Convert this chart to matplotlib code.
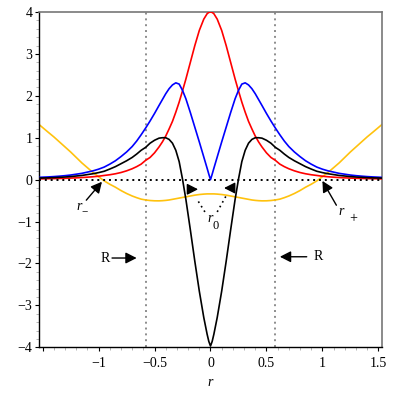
import numpy as np
import matplotlib
matplotlib.use("Agg")
import matplotlib.pyplot as plt
from matplotlib.ticker import MultipleLocator

plt.rcParams['font.family'] = ['Liberation Serif', 'DejaVu Serif']
plt.rcParams['axes.unicode_minus'] = True

r_half = [0.0, 0.015, 0.03, 0.06, 0.1, 0.14, 0.18, 0.22, 0.25, 0.28, 0.31, 0.34,
          0.37, 0.4, 0.43, 0.46, 0.5, 0.54, 0.58, 0.62, 0.66, 0.7, 0.75, 0.8,
          0.85, 0.9, 0.95, 1.0, 1.05, 1.1, 1.15, 1.2, 1.25, 1.3, 1.35, 1.4, 1.45, 1.53]

red_half = [4.0, 3.99, 3.96, 3.83, 3.56, 3.20, 2.80, 2.40, 2.12, 1.85, 1.61, 1.39,
            1.21, 1.04, 0.90, 0.78, 0.64, 0.53, 0.46, 0.37, 0.31, 0.26, 0.21, 0.17,
            0.14, 0.117, 0.10, 0.082, 0.069, 0.059, 0.05, 0.043, 0.037, 0.032,
            0.028, 0.025, 0.022, 0.018]

blue_half = [0.0, 0.13, 0.27, 0.54, 0.9, 1.25, 1.6, 1.93, 2.13, 2.28, 2.31, 2.26,
             2.17, 2.05, 1.91, 1.77, 1.58, 1.40, 1.23, 1.07, 0.92, 0.79, 0.66, 0.55,
             0.45, 0.37, 0.30, 0.25, 0.21, 0.18, 0.15, 0.13, 0.11, 0.095,
             0.083, 0.073, 0.065, 0.055]

black_half = [-3.97, -3.86, -3.69, -3.29, -2.66, -1.95, -1.2, -0.47, 0.01, 0.43, 0.70, 0.87,
              0.96, 1.0, 1.0, 0.99, 0.94, 0.87, 0.77, 0.70, 0.61, 0.53, 0.45, 0.38,
              0.31, 0.253, 0.20, 0.168, 0.141, 0.121, 0.10, 0.087, 0.073, 0.063,
              0.055, 0.048, 0.043, 0.037]

gold_half = [-0.34, -0.34, -0.34, -0.345, -0.355, -0.37, -0.39, -0.41, -0.425, -0.44, -0.455, -0.47,
             -0.485, -0.495, -0.502, -0.506, -0.505, -0.498, -0.485, -0.465, -0.43, -0.39, -0.33, -0.26,
             -0.18, -0.11, -0.03, 0.07, 0.17, 0.285, 0.40, 0.53, 0.66, 0.78,
             0.90, 1.02, 1.13, 1.31]


def mirror(vals, odd=False):
    left = [(-v if odd else v) for v in reversed(vals[1:])]
    return left + list(vals)


r = mirror(r_half, odd=True)
red = mirror(red_half)
blue = mirror(blue_half)
black = mirror(black_half)
gold = mirror(gold_half)

R = 0.577
xticks = [-1.5, -1, -0.5, 0, 0.5, 1, 1.5]
xticklabels = ['', '\u22121', '\u22120.5', '0', '0.5', '1', '1.5']
yticks = [-4, -3, -2, -1, 0, 1, 2, 3, 4]

fig = plt.figure(figsize=(3.95, 3.95), dpi=100)
ax = fig.add_axes([0.0995, 0.1208, 0.8668, 0.8488])

dots = (0, (1, 2))
ax.axvline(-R, color='#8c8c8c', lw=1.4, ls=dots, dash_capstyle='butt', zorder=1)
ax.axvline(R, color='#8c8c8c', lw=1.4, ls=dots, dash_capstyle='butt', zorder=1)

ax.plot(r, gold, color='#ffc20e', lw=1.2, zorder=2)
ax.plot(r, red, color='#ff0000', lw=1.2, zorder=3)
ax.plot(r, blue, color='#0000ff', lw=1.2, zorder=4)
ax.plot(r, black, color='black', lw=1.2, zorder=5)
ax.axhline(0, color='black', lw=1.4, ls=dots, dash_capstyle='butt', zorder=6)

ax.set_xlim(-1.53, 1.53)
ax.set_ylim(-4, 4)
ax.set_xticks(xticks)
ax.set_xticklabels(xticklabels)
ax.set_yticks(yticks)
ax.set_yticklabels([str(v).replace('-', '\u2212') for v in yticks])
ax.xaxis.set_minor_locator(MultipleLocator(0.1))
ax.yaxis.set_minor_locator(MultipleLocator(0.2))
ax.tick_params(which='major', direction='out', length=3, width=0.8, labelsize=10, pad=2)
ax.tick_params(which='minor', direction='out', length=2, width=0.6, color='#aaaaaa')
ax.tick_params(axis='x', which='major', pad=4)

for side in ['top', 'right']:
    ax.spines[side].set_color('#777777')
    ax.spines[side].set_linewidth(1.2)
for side in ['left', 'bottom']:
    ax.spines[side].set_color('black')
    ax.spines[side].set_linewidth(1.0)

ax.set_xlabel('r', fontstyle='italic', fontsize=10, labelpad=4)

head = dict(arrowstyle='-|>,head_length=0.55,head_width=0.28', color='black',
            lw=1.0, mutation_scale=12, shrinkA=0, shrinkB=0)

# R markers
ax.annotate('', xy=(-0.66, -1.87), xytext=(-0.88, -1.87), arrowprops=head)
ax.text(-0.94, -1.87, 'R', fontsize=10, ha='center', va='center')
ax.annotate('', xy=(0.62, -1.84), xytext=(0.86, -1.84), arrowprops=head)
ax.text(0.96, -1.84, 'R', fontsize=10, ha='center', va='center')

# r_- and r_+
ax.annotate('', xy=(-0.97, -0.05), xytext=(-1.11, -0.49), arrowprops=head)
ax.text(-1.173, -0.65, 'r', fontstyle='italic', fontsize=10, ha='center', va='center')
ax.text(-1.13, -0.80, '\u2212', fontsize=8, ha='center', va='center')
ax.annotate('', xy=(1.0, -0.03), xytext=(1.125, -0.61), arrowprops=head)
ax.text(1.17, -0.77, 'r', fontstyle='italic', fontsize=10, ha='center', va='center')
ax.text(1.273, -0.93, '+', fontsize=10, ha='center', va='center')

# r_0 with dotted leaders
ax.plot([-0.05, -0.125], [-0.77, -0.45], color='black', lw=1.2, ls=(0, (1, 2.2)))
ax.plot([0.06, 0.143], [-0.77, -0.37], color='black', lw=1.2, ls=(0, (1, 2.2)))
ax.annotate('', xy=(-0.111, -0.23), xytext=(-0.2, -0.23), arrowprops=head)
ax.annotate('', xy=(0.121, -0.2), xytext=(0.208, -0.2), arrowprops=head)
ax.text(0.0, -0.92, 'r', fontstyle='italic', fontsize=10, ha='center', va='center')
ax.text(0.043, -1.1, '0', fontsize=9, ha='center', va='center')

fig.savefig('out.png', dpi=100)
